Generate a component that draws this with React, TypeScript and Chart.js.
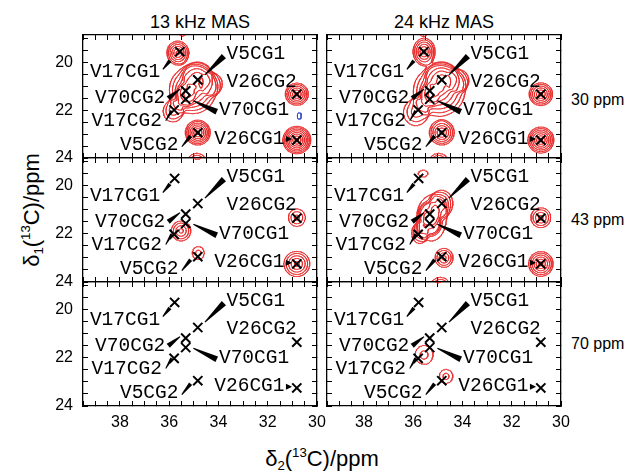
import React, { useEffect, useRef } from 'react';
import { Chart, registerables } from 'chart.js';

Chart.register(...registerables);

// ---------- axes ----------
const X_MIN = 30;
const X_MAX = 39.5;
const Y_MIN = 18.85;
const Y_MAX = 24;
const TICK_STEP = 0.5;
const xTickLabels = [30, 32, 34, 36, 38];
const yTickLabels = [20, 22, 24];
const columnTitles = ['13 kHz MAS', '24 kHz MAS'];
const rowTitles = ['30 ppm', '43 ppm', '70 ppm'];

// ---------- assignments (cross marks) ----------
const peakNames = ['V17CG1', 'V5CG1', 'V70CG2', 'V70CG1', 'V17CG2', 'V5CG2', 'V26CG2', 'V26CG1'];
const crossX = [35.78, 34.84, 35.33, 35.33, 35.8, 34.84, 30.82, 30.82];
const crossY = [19.7, 20.74, 21.18, 21.57, 22.02, 22.95, 21.35, 23.25];
const crossX30 = [35.57, 34.84, 35.33, 35.33, 35.8, 34.84, 30.82, 30.82];
const crossY30 = [19.55, 20.73, 21.19, 21.54, 21.99, 22.94, 21.33, 23.25];

// label anchor (left edge, vertical middle), ppm
const labelX = [39.22, 33.67, 39.01, 33.98, 39.15, 38.0, 33.67, 34.17];
const labelY = [20.41, 19.65, 21.5, 21.99, 22.44, 23.46, 20.81, 23.18];

// pointer wedges (V17CG1, V5CG1, V70CG2, V70CG1, V17CG2, V5CG2, V26CG1)
const wedgeX1 = [36.26, 34.55, 36.04, 35.02, 36.14, 35.49, 31.26];
const wedgeY1 = [20.29, 20.52, 21.5, 21.6, 22.44, 23.53, 23.2];
const wedgeW1 = [1, 1, 5, 1, 1, 1, 6];
const wedgeX2 = [35.97, 33.78, 35.56, 34.07, 35.9, 35.13, 31.03];
const wedgeY2 = [19.93, 19.73, 21.12, 22.06, 22.02, 23.08, 23.2];
const wedgeW2 = [4, 6, 1, 6, 3, 4, 0.5];

// ---------- spectra: peaks [x ppm, y ppm, contour rings, outer radius x, outer radius y] ----------
const peaks13k30 = [
  [35.65, 19.6, 6, 0.45, 0.5],
  [35.05, 21.15, 6, 0.95, 1.0],
  [34.84, 20.55, 4, 0.55, 0.55],
  [35.33, 21.37, 4, 0.35, 0.45],
  [35.85, 22.05, 3, 0.4, 0.45],
  [34.3, 20.9, 2, 0.45, 0.45],
  [34.84, 22.94, 7, 0.51, 0.52],
  [30.82, 21.33, 6, 0.47, 0.47],
  [30.82, 23.25, 8, 0.57, 0.58],
  [34.88, 24.2, 4, 0.4, 0.4],
  [35.46, 18.7, 2, 0.2, 0.2],
];
const negPeaks13k30 = [[30.72, 22.24, 1, 0.1, 0.15]];

const peaks24k30 = [
  [35.56, 19.55, 6, 0.45, 0.57],
  [34.95, 21.2, 6, 1.05, 1.05],
  [34.84, 20.6, 5, 0.6, 0.6],
  [35.33, 21.37, 4, 0.35, 0.45],
  [35.9, 22.1, 3, 0.5, 0.55],
  [34.2, 20.75, 2, 0.45, 0.45],
  [34.84, 22.94, 6, 0.51, 0.52],
  [30.82, 21.33, 6, 0.48, 0.48],
  [30.82, 23.25, 7, 0.53, 0.55],
  [34.97, 24.2, 4, 0.4, 0.4],
  [35.58, 18.7, 2, 0.2, 0.2],
];

const peaks13k43 = [
  [35.52, 21.88, 4, 0.4, 0.42],
  [34.82, 22.8, 2, 0.25, 0.28],
  [30.82, 21.33, 3, 0.35, 0.37],
  [30.82, 23.25, 5, 0.53, 0.53],
  [34.86, 18.7, 2, 0.22, 0.22],
];

const peaks24k43 = [
  [35.6, 19.5, 1, 0.2, 0.15],
  [34.84, 20.74, 4, 0.45, 0.55],
  [35.33, 21.18, 3, 0.4, 0.45],
  [35.33, 21.56, 3, 0.4, 0.45],
  [35.75, 21.98, 3, 0.32, 0.42],
  [35.25, 21.35, 2, 0.6, 0.95],
  [34.75, 23.0, 4, 0.37, 0.4],
  [30.82, 21.33, 4, 0.41, 0.42],
  [30.82, 23.25, 6, 0.5, 0.52],
  [34.9, 24.2, 4, 0.4, 0.4],
];

const peaks13k70: number[][] = [];

const peaks24k70 = [
  [35.56, 21.88, 2, 0.37, 0.4],
  [34.67, 22.77, 2, 0.28, 0.3],
  [35.0, 18.7, 2, 0.2, 0.2],
];

const LEVEL_FACTOR = 1.3;
const contourLevels = [1, 1.3, 1.69, 2.2, 2.86, 3.71, 4.83, 6.27, 8.16, 10.6, 13.8, 17.9];
const negLevels = [1];
const SHAPE_Q = 1.3;
const TAIL = 8;

// ---------- contour tracing (marching squares over the peak model) ----------
const CASES: number[][] = [
  [], [3, 0], [0, 1], [3, 1], [1, 2], [3, 0, 1, 2], [0, 2], [3, 2],
  [2, 3], [0, 2], [0, 1, 2, 3], [1, 2], [1, 3], [0, 1], [0, 3], [],
];

function contourPoints(peaks: number[][], levels: number[]) {
  const pts: { x: number | null; y: number | null }[] = [];
  if (!peaks.length) return pts;
  const s = 0.035;
  const gx0 = 29.6, gx1 = 39.9, gy0 = 18.2, gy1 = 24.7;
  const nx = Math.ceil((gx1 - gx0) / s) + 1;
  const ny = Math.ceil((gy1 - gy0) / s) + 1;
  const f = new Float64Array(nx * ny);
  for (let j = 0; j < ny; j++) {
    const y = gy0 + j * s;
    for (let i = 0; i < nx; i++) {
      const x = gx0 + i * s;
      let v = 0;
      for (const p of peaks) {
        const lnA = Math.log(LEVEL_FACTOR) * (p[2] - 0.5);
        const dx = (x - p[0]) / p[3];
        const dy = (y - p[1]) / p[4];
        const rho = Math.sqrt(dx * dx + dy * dy);
        v += rho <= 1 ? Math.exp(lnA * (1 - Math.pow(rho, SHAPE_Q))) : Math.exp(-TAIL * (rho - 1));
      }
      f[j * nx + i] = v;
    }
  }
  for (const L of levels) {
    for (let j = 0; j < ny - 1; j++) {
      for (let i = 0; i < nx - 1; i++) {
        const a = f[j * nx + i], b = f[j * nx + i + 1];
        const c = f[(j + 1) * nx + i + 1], d = f[(j + 1) * nx + i];
        const idx = (a > L ? 1 : 0) | (b > L ? 2 : 0) | (c > L ? 4 : 0) | (d > L ? 8 : 0);
        if (idx === 0 || idx === 15) continue;
        const xa = gx0 + i * s, ya = gy0 + j * s;
        const edge = (e: number) => {
          if (e === 0) return { x: xa + ((L - a) / (b - a)) * s, y: ya };
          if (e === 1) return { x: xa + s, y: ya + ((L - b) / (c - b)) * s };
          if (e === 2) return { x: xa + ((L - d) / (c - d)) * s, y: ya + s };
          return { x: xa, y: ya + ((L - a) / (d - a)) * s };
        };
        const segs = CASES[idx];
        for (let k = 0; k < segs.length; k += 2) {
          pts.push(edge(segs[k]), edge(segs[k + 1]), { x: null, y: null });
        }
      }
    }
  }
  return pts;
}

// ---------- layout ----------
const colLeft = [83, 327];
const colWidth = 234;
const rowTop = [35, 158, 282];
const rowHeight = [123, 124, 124];
const PAD_L = 45, PAD_R = 30, PAD_T = 30, PAD_B = 40;

const labelPlugin = {
  id: 'peakLabels',
  afterDatasetsDraw(chart: any) {
    const { ctx, chartArea: a, scales } = chart;
    const xs = scales.x, ys = scales.y;
    ctx.save();
    ctx.beginPath();
    ctx.rect(a.left, a.top, a.right - a.left, a.bottom - a.top);
    ctx.clip();
    ctx.fillStyle = '#000';
    for (let i = 0; i < wedgeX1.length; i++) {
      const x1 = xs.getPixelForValue(wedgeX1[i]), y1 = ys.getPixelForValue(wedgeY1[i]);
      const x2 = xs.getPixelForValue(wedgeX2[i]), y2 = ys.getPixelForValue(wedgeY2[i]);
      const len = Math.hypot(x2 - x1, y2 - y1) || 1;
      const nx = -(y2 - y1) / len, ny = (x2 - x1) / len;
      const h1 = wedgeW1[i] / 2, h2 = wedgeW2[i] / 2;
      ctx.beginPath();
      ctx.moveTo(x1 + nx * h1, y1 + ny * h1);
      ctx.lineTo(x2 + nx * h2, y2 + ny * h2);
      ctx.lineTo(x2 - nx * h2, y2 - ny * h2);
      ctx.lineTo(x1 - nx * h1, y1 - ny * h1);
      ctx.closePath();
      ctx.fill();
    }
    ctx.font = '19.5px "Liberation Mono", monospace';
    ctx.textAlign = 'left';
    ctx.textBaseline = 'middle';
    peakNames.forEach((n, i) => {
      ctx.fillText(n, xs.getPixelForValue(labelX[i]), ys.getPixelForValue(labelY[i]));
    });
    ctx.restore();
  },
};

type PanelProps = {
  row: number;
  col: number;
  peaks: number[][];
  negPeaks: number[][];
  cx: number[];
  cy: number[];
};

function Panel({ row, col, peaks, negPeaks, cx, cy }: PanelProps) {
  const ref = useRef<HTMLCanvasElement>(null);
  const showX = row === 2;
  const showY = col === 0;
  const w = colWidth + PAD_L + PAD_R;
  const h = rowHeight[row] + PAD_T + PAD_B;

  useEffect(() => {
    const tickFont = { family: '"Liberation Sans", Arial, sans-serif', size: 16 };
    const grid = { drawOnChartArea: false, drawTicks: true, tickLength: -5, color: '#000', lineWidth: 1 };
    const border = { display: true, color: '#000', width: 1.3 };
    const xBase = { type: 'linear', min: X_MIN, max: X_MAX, reverse: true, grid, border };
    const yBase = { type: 'linear', min: Y_MIN, max: Y_MAX, reverse: true, grid, border };
    const chart = new Chart(ref.current as HTMLCanvasElement, {
      type: 'scatter',
      data: {
        datasets: [
          {
            data: cx.map((x, i) => ({ x, y: cy[i] })),
            pointStyle: 'crossRot',
            pointRadius: 6.5,
            pointBorderWidth: 2,
            borderColor: '#000',
            backgroundColor: '#000',
            order: 0,
          },
          {
            data: contourPoints(peaks, contourLevels),
            showLine: true,
            spanGaps: false,
            pointRadius: 0,
            borderColor: 'rgb(232, 42, 42)',
            borderWidth: 0.75,
            borderCapStyle: 'round',
            order: 1,
          },
          {
            data: contourPoints(negPeaks, negLevels),
            showLine: true,
            spanGaps: false,
            pointRadius: 0,
            borderColor: 'rgb(60, 80, 200)',
            borderWidth: 1,
            borderCapStyle: 'round',
            order: 2,
          },
        ] as any,
      },
      options: {
        animation: false,
        responsive: false,
        devicePixelRatio: 1,
        events: [],
        layout: { padding: { left: 0, right: PAD_R, top: PAD_T, bottom: 0 } },
        plugins: { legend: { display: false }, tooltip: { enabled: false } },
        scales: {
          x: {
            ...xBase,
            position: 'bottom',
            ticks: {
              display: showX,
              stepSize: TICK_STEP,
              autoSkip: false,
              maxRotation: 0,
              padding: 12,
              color: '#000',
              font: tickFont,
              callback: (v: any) => (xTickLabels.includes(v) ? String(v) : ''),
            },
            afterFit: (s: any) => { s.height = PAD_B; },
          },
          x2: {
            ...xBase,
            position: 'top',
            ticks: { display: false, stepSize: TICK_STEP, autoSkip: false },
            afterFit: (s: any) => { s.height = 0; },
          },
          y: {
            ...yBase,
            position: 'left',
            ticks: {
              display: showY,
              stepSize: TICK_STEP,
              includeBounds: false,
              autoSkip: false,
              padding: 15,
              color: '#000',
              font: tickFont,
              callback: (v: any) => (yTickLabels.includes(v) ? String(v) : ''),
            },
            afterFit: (s: any) => { s.width = PAD_L; },
          },
          y2: {
            ...yBase,
            position: 'right',
            ticks: { display: false, stepSize: TICK_STEP, includeBounds: false, autoSkip: false },
            afterFit: (s: any) => { s.width = 0; },
          },
        } as any,
      },
      plugins: [labelPlugin as any],
    });
    return () => chart.destroy();
  }, []);

  return (
    <canvas
      ref={ref}
      width={w}
      height={h}
      style={{
        position: 'absolute',
        left: colLeft[col] - PAD_L,
        top: rowTop[row] - PAD_T,
        width: w,
        height: h,
      }}
    />
  );
}

const panelPeaks = [
  [peaks13k30, peaks24k30],
  [peaks13k43, peaks24k43],
  [peaks13k70, peaks24k70],
];

const subStyle: React.CSSProperties = { fontSize: '0.6em', lineHeight: 0, position: 'relative', top: '0.3em', verticalAlign: 'baseline' };
const supStyle: React.CSSProperties = { fontSize: '0.6em', lineHeight: 0, position: 'relative', top: '-0.65em', verticalAlign: 'baseline' };

export default function App() {
  const sans = '"Liberation Sans", Arial, Helvetica, sans-serif';
  return (
    <div style={{ position: 'absolute', left: 0, top: 0, width: 632, height: 472, background: '#fff', fontFamily: sans, color: '#000' }}>
      {columnTitles.map((t, c) => (
        <div key={t} style={{ position: 'absolute', left: colLeft[c], top: 11, width: colWidth, textAlign: 'center', fontSize: 18, lineHeight: '22px' }}>{t}</div>
      ))}
      {rowTitles.map((t, r) => (
        <div key={t} style={{ position: 'absolute', left: 571, top: rowTop[r] + rowHeight[r] / 2 - 10 + (r === 0 ? 3 : 0), fontSize: 16, lineHeight: '20px', whiteSpace: 'nowrap' }}>{t}</div>
      ))}
      <div style={{ position: 'absolute', left: colLeft[0], top: 446, width: colLeft[1] + colWidth - colLeft[0], textAlign: 'center', fontSize: 22, lineHeight: '26px', whiteSpace: 'nowrap' }}>
        δ<span style={subStyle}>2</span>(<span style={supStyle}>13</span>C)/ppm
      </div>
      <div style={{ position: 'absolute', left: 32 - 100, top: 210 - 13, width: 200, height: 26, textAlign: 'center', fontSize: 22, lineHeight: '26px', transform: 'rotate(-90deg)', whiteSpace: 'nowrap' }}>
        δ<span style={subStyle}>1</span>(<span style={supStyle}>13</span>C)/ppm
      </div>
      {[0, 1, 2].map((r) =>
        [0, 1].map((c) => (
          <Panel
            key={`${r}-${c}`}
            row={r}
            col={c}
            peaks={panelPeaks[r][c]}
            negPeaks={r === 0 && c === 0 ? negPeaks13k30 : []}
            cx={r === 0 ? crossX30 : crossX}
            cy={r === 0 ? crossY30 : crossY}
          />
        ))
      )}
    </div>
  );
}
